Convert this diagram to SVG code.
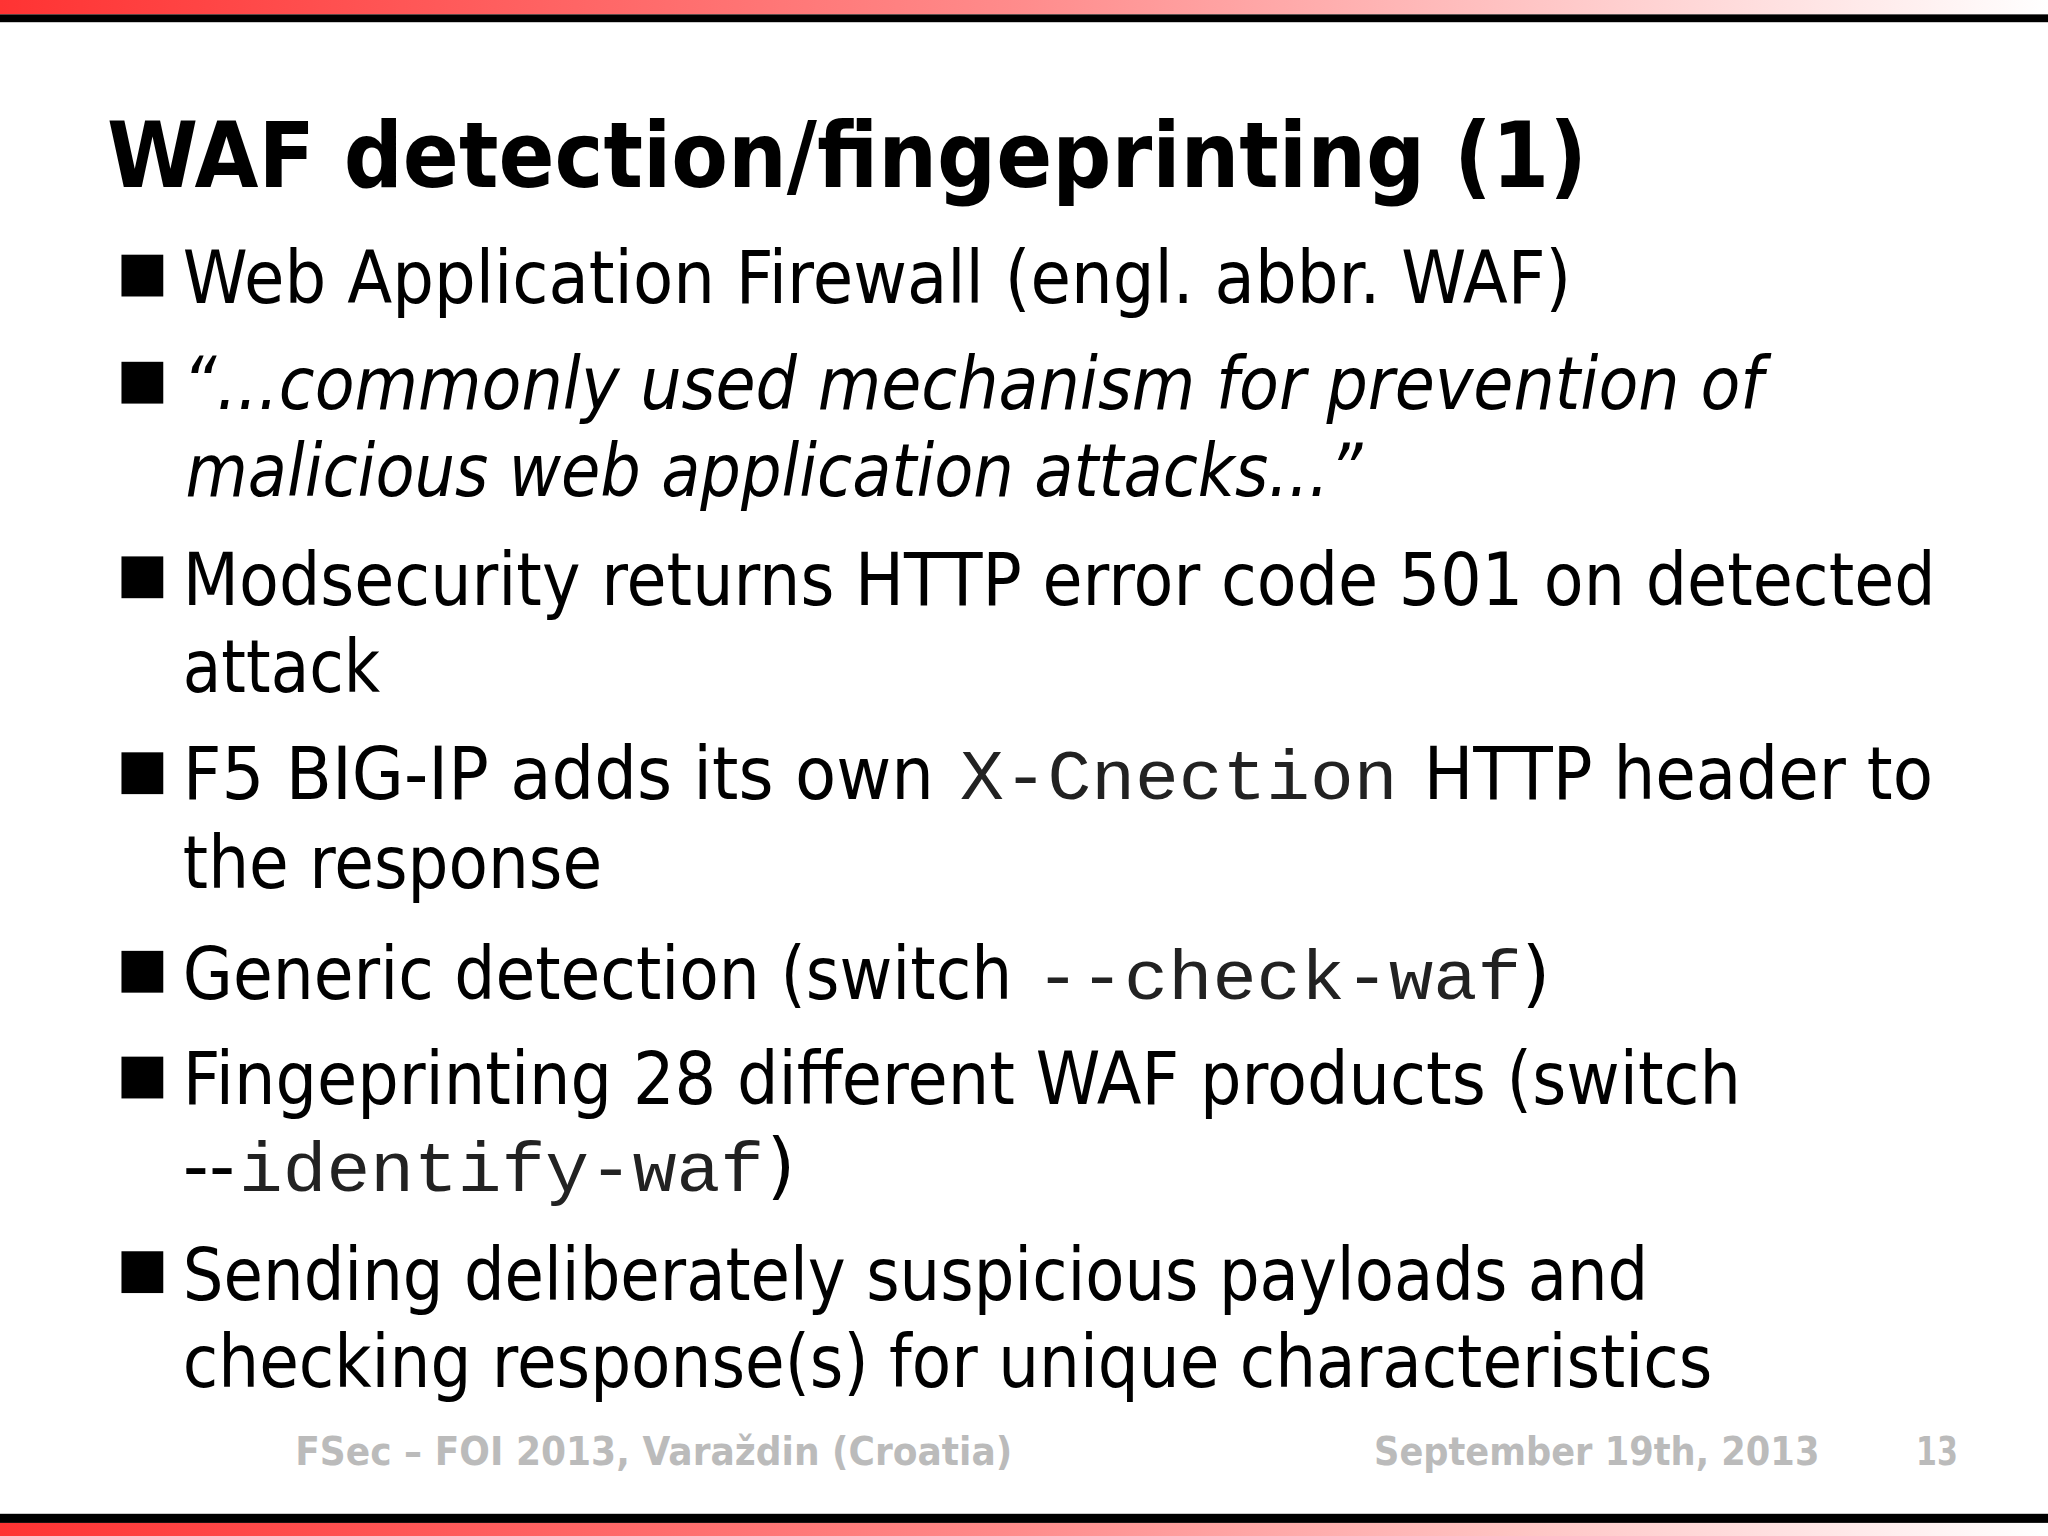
<svg xmlns="http://www.w3.org/2000/svg" width="2048" height="1536" viewBox="0 0 2048 1536">
<defs>
<linearGradient id="g" x1="0" x2="1" y1="0" y2="0"><stop offset="0" stop-color="#ff3333"/><stop offset="0.5" stop-color="#ff8c8c"/><stop offset="1" stop-color="#ffffff"/></linearGradient>
<style>
.t{font-family:"DejaVu Sans","Verdana",sans-serif;font-size:56px;fill:#000}
.i{font-style:italic}
.m{font-family:"Liberation Mono","Courier New",monospace;font-size:54px;fill:#222}
.f{font-family:"DejaVu Sans",sans-serif;font-weight:bold;font-size:30px;fill:#bbbbbb}
</style>
</defs>
<rect width="2048" height="1536" fill="#fff"/>
<g transform="scale(1.30612)">
<rect x="0" y="0" width="1568" height="11" fill="url(#g)"/>
<rect x="0" y="11" width="1568" height="6" fill="#000"/>
<rect x="0" y="1159" width="1568" height="7" fill="#000"/>
<rect x="0" y="1166" width="1568" height="10" fill="url(#g)"/>
<g id="title"><text x="82" y="143" font-family="DejaVu Sans,sans-serif" font-weight="bold" font-size="70" textLength="1133" lengthAdjust="spacingAndGlyphs">WAF detection/fingeprinting (1)</text></g>
<g id="bullets" fill="#000">
<rect x="93" y="195" width="32" height="32"/>
<rect x="93" y="277" width="32" height="32"/>
<rect x="93" y="426" width="32" height="32"/>
<rect x="93" y="576" width="32" height="32"/>
<rect x="93" y="728" width="32" height="32"/>
<rect x="93" y="809" width="32" height="32"/>
<rect x="93" y="958" width="32" height="32"/>
</g>
<g id="body" class="t">
<text class="t" x="140" y="232" textLength="1063" lengthAdjust="spacingAndGlyphs">Web Application Firewall (engl. abbr. WAF)</text>
<text class="t i" x="140" y="313" textLength="1210" lengthAdjust="spacingAndGlyphs">“...commonly used mechanism for prevention of</text>
<text class="t i" x="142" y="380" textLength="901" lengthAdjust="spacingAndGlyphs">malicious web application attacks...”</text>
<text class="t" x="140" y="463" textLength="1342" lengthAdjust="spacingAndGlyphs">Modsecurity returns HTTP error code 501 on detected</text>
<text class="t" x="140" y="530" textLength="151" lengthAdjust="spacingAndGlyphs">attack</text>
<text class="t" x="140" y="612" textLength="575" lengthAdjust="spacingAndGlyphs">F5 BIG-IP adds its own</text>
<text class="m" x="735" y="612" textLength="335" lengthAdjust="spacingAndGlyphs">X-Cnection</text>
<text class="t" x="1090" y="612" textLength="390" lengthAdjust="spacingAndGlyphs">HTTP header to</text>
<text class="t" x="140" y="680" textLength="321" lengthAdjust="spacingAndGlyphs">the response</text>
<text class="t" x="140" y="765" textLength="635" lengthAdjust="spacingAndGlyphs">Generic detection (switch</text>
<text class="m" x="793" y="765" textLength="372" lengthAdjust="spacingAndGlyphs">--check-waf</text>
<text class="t" x="1165" y="765">)</text>
<text class="t" x="140" y="845" textLength="1193" lengthAdjust="spacingAndGlyphs">Fingeprinting 28 different WAF products (switch</text>
<text class="t" x="140" y="912" textLength="40" lengthAdjust="spacingAndGlyphs">--</text>
<text class="m" x="183" y="912" textLength="402" lengthAdjust="spacingAndGlyphs">identify-waf</text>
<text class="t" x="587" y="912">)</text>
<text class="t" x="140" y="995" textLength="1122" lengthAdjust="spacingAndGlyphs">Sending deliberately suspicious payloads and</text>
<text class="t" x="140" y="1062" textLength="1171" lengthAdjust="spacingAndGlyphs">checking response(s) for unique characteristics</text>
</g>
<g id="footer">
<text class="f" x="226" y="1122" textLength="549" lengthAdjust="spacingAndGlyphs">FSec – FOI 2013, Varaždin (Croatia)</text>
<text class="f" x="1052" y="1122" textLength="341" lengthAdjust="spacingAndGlyphs">September 19th, 2013</text>
<text class="f" x="1467" y="1122" font-weight="normal" textLength="32" lengthAdjust="spacingAndGlyphs">13</text>
</g>
</g>
</svg>
